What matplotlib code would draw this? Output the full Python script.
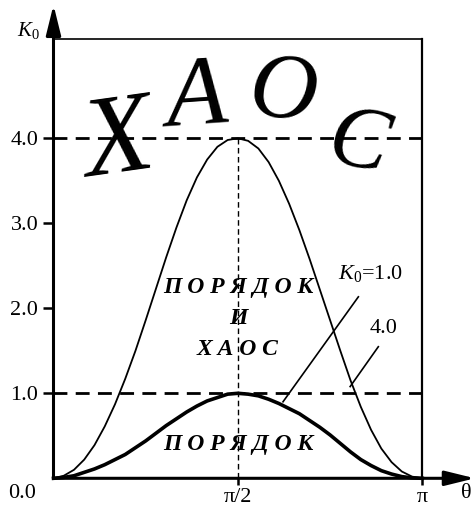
import numpy as np
import matplotlib
matplotlib.use("Agg")
import matplotlib.pyplot as plt

plt.rcParams["font.family"] = ["Liberation Serif", "DejaVu Serif"]
plt.rcParams["mathtext.fontset"] = "custom"
plt.rcParams["mathtext.rm"] = "Liberation Serif"
plt.rcParams["mathtext.it"] = "Liberation Serif:italic"

# angle (degrees) and K0 values of the two boundary curves
theta_deg = [0, 5, 10, 15, 20, 25, 30, 35, 40, 45, 50, 55, 60, 65, 70, 75, 80, 85, 90,
             95, 100, 105, 110, 115, 120, 125, 130, 135, 140, 145, 150, 155, 160, 165, 170, 175, 180]
k_low = [0, 0.01, 0.03, 0.07, 0.11, 0.16, 0.22, 0.28, 0.36, 0.44, 0.53, 0.62, 0.70, 0.78, 0.85, 0.91, 0.95, 0.99, 1.00,
         0.99, 0.97, 0.93, 0.88, 0.82, 0.76, 0.68, 0.60, 0.51, 0.41, 0.31, 0.22, 0.15, 0.09, 0.05, 0.02, 0.005, 0]
k_high = [0, 0.03, 0.10, 0.22, 0.39, 0.61, 0.87, 1.17, 1.50, 1.86, 2.23, 2.60, 2.95, 3.27, 3.54, 3.75, 3.90, 3.98, 4.00,
          3.97, 3.88, 3.72, 3.50, 3.23, 2.92, 2.58, 2.22, 1.86, 1.50, 1.15, 0.84, 0.57, 0.35, 0.19, 0.08, 0.02, 0]

ytick_vals = [1.0, 2.0, 3.0, 4.0]
ytick_labels = ["1.0", "2.0", "3.0", "4.0"]
xtick_vals = [np.pi / 2, np.pi]
xtick_labels = ["π/2", "π"]
k_levels = [1.0, 4.0]
k_top = 5.17

theta = np.deg2rad(theta_deg)

fig = plt.figure(figsize=(4.77, 5.15), dpi=100)
ax = fig.add_axes([53.5 / 477, 36.7 / 515, 423.5 / 477, 478.3 / 515])
ax.set_xlim(0, 3.6076)
ax.set_ylim(0, 5.627)
for s in ax.spines.values():
    s.set_visible(False)

# curves
ax.plot(theta, k_high, color="black", lw=1.3, clip_on=False, solid_joinstyle="round")
ax.plot(theta, k_low, color="black", lw=2.6, clip_on=False, solid_joinstyle="round")

# dashed guide lines
for k in k_levels:
    ax.plot([0, np.pi], [k, k], color="black", lw=2.0, dashes=(5, 3))
ax.plot([np.pi / 2, np.pi / 2], [0, 4.0], color="black", lw=1.0, dashes=(4, 2.5))

# frame top and right side
ax.plot([0, np.pi], [k_top, k_top], color="black", lw=1.2)
ax.plot([np.pi, np.pi], [0, k_top], color="black", lw=1.6)

# axes with arrows
arrow = dict(arrowstyle="-|>,head_length=1.3,head_width=0.32", color="black",
             lw=2.2, shrinkA=0, shrinkB=0, mutation_scale=14)
ax.annotate("", xy=(0, 5.57), xytext=(0, 0), arrowprops=arrow, annotation_clip=False)
ax.annotate("", xy=(3.59, 0), xytext=(0, 0), arrowprops=arrow, annotation_clip=False)

# ticks
ax.set_yticks(ytick_vals)
ax.set_yticklabels(ytick_labels)
ax.set_xticks(xtick_vals)
ax.set_xticklabels(xtick_labels)
ax.tick_params(axis="y", direction="out", length=7, width=1.8, pad=4, labelsize=16)
ax.tick_params(axis="x", direction="out", length=5, width=1.8, pad=2, labelsize=16)

ax.text(-0.268, -0.173, "0.0", fontsize=16, ha="center", va="center", clip_on=False)
ax.text(3.513, -0.18, "θ", fontsize=16, ha="center", va="center", clip_on=False)
ax.text(-0.217, 5.27, "$K_0$", fontsize=15, ha="center", va="center", clip_on=False)

# curve labels with leader lines
ax.text(2.696, 2.415, "$K_0$=1.0", fontsize=16, ha="center", va="center")
ax.text(2.815, 1.765, "4.0", fontsize=16, ha="center", va="center")
ax.plot([2.597, 1.955], [2.135, 0.90], color="black", lw=1.2)
ax.plot([2.767, 2.527], [1.548, 1.079], color="black", lw=1.2)

# region labels
reg = dict(fontsize=17, fontweight="bold", style="italic", ha="center", va="center")
ax.text(np.pi / 2, 2.24, "П О Р Я Д О К", **reg)
ax.text(np.pi / 2, 1.88, "И", **reg)
ax.text(np.pi / 2, 1.52, "Х А О С", **reg)
ax.text(np.pi / 2, 0.40, "П О Р Я Д О К", **reg)

# large title letters along an arc
big = dict(style="italic", ha="center", va="center", rotation_mode="anchor")
ax.text(0.550, 3.92, "Х", fontsize=82, rotation=8, **big)
ax.text(1.214, 4.44, "А", fontsize=72, rotation=4, **big)
ax.text(1.955, 4.51, "О", fontsize=68, rotation=-4, **big)
ax.text(2.594, 3.92, "С", fontsize=64, rotation=-12, **big)

fig.savefig("out.png", dpi=100)
